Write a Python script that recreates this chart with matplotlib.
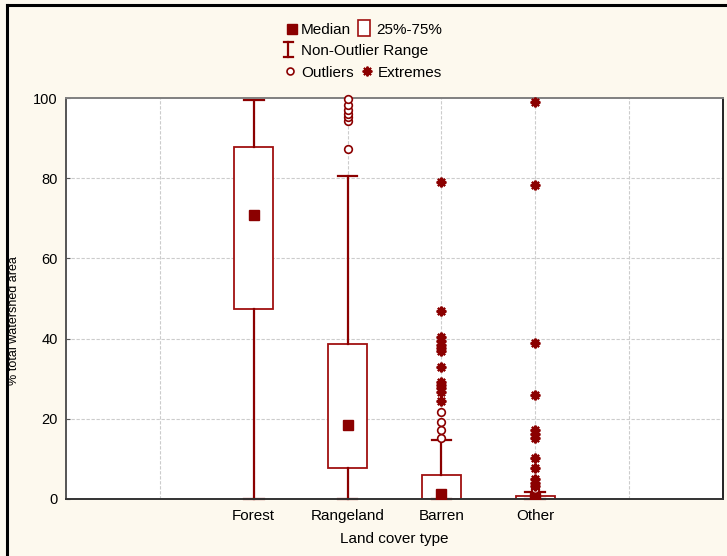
import matplotlib
matplotlib.use("Agg")
import matplotlib.pyplot as plt
from matplotlib.patches import Rectangle

plt.rcParams['font.family'] = ['Liberation Sans', 'DejaVu Sans']

# ---- data ----
categories = ["Forest", "Rangeland", "Barren", "Other"]
positions = [2, 3, 4, 5]
whisker_lo = [0.0, 0.0, 0.0, 0.0]
q1 = [47.4, 7.7, 0.0, 0.0]
medians = [70.7, 18.5, 1.3, 0.2]
q3 = [87.8, 38.7, 5.9, 0.7]
whisker_hi = [99.5, 80.6, 14.7, 1.8]
outliers = [
    [],
    [87.4, 94.3, 95.2, 96.0, 97.0, 98.25, 99.7],
    [15.3, 17.25, 19.3, 21.6],
    [2.4],
]
extremes = [
    [],
    [],
    [24.5, 26.8, 27.7, 28.5, 29.3, 32.8, 36.8, 37.7, 38.5, 39.3, 40.3, 46.8, 79.1],
    [3.25, 4.1, 4.9, 7.7, 10.2, 15.3, 16.3, 17.2, 26.0, 38.8, 78.25, 99.1],
]
yticks = [0, 20, 40, 60, 80, 100]

# ---- style ----
RED = '#8b0000'
BOXRED = '#a01010'
BG = '#fdf9ee'

fig = plt.figure(figsize=(7.27, 5.56), dpi=100, facecolor=BG)
ax = fig.add_axes([66/727, 1-499/556, 657/727, 401/556])
ax.set_facecolor('white')
ax.set_xlim(0, 7)
ax.set_ylim(0, 100)

# grid
for gx in range(1, 7):
    ax.axvline(gx, color='#cccccc', lw=0.8, ls=(0, (3, 1.5)), zorder=0)
for gy in yticks[1:-1]:
    ax.axhline(gy, color='#cccccc', lw=0.8, ls=(0, (3, 1.5)), zorder=0)

stats = []
for i, c in enumerate(categories):
    stats.append(dict(label=c, whislo=whisker_lo[i], q1=q1[i], med=medians[i],
                      q3=q3[i], whishi=whisker_hi[i], fliers=[]))
bp = ax.bxp(stats, positions=positions, widths=0.41, capwidths=0.21,
            showfliers=False, patch_artist=True,
            boxprops=dict(facecolor='white', edgecolor=BOXRED, linewidth=1.3),
            whiskerprops=dict(color=RED, linewidth=1.6),
            capprops=dict(color=RED, linewidth=1.6),
            medianprops=dict(linewidth=0))
for art in bp['caps'] + bp['whiskers']:
    art.set_clip_on(False)

ax.plot(positions, medians, ls='none', marker='s', ms=6.5, color=RED,
        mec=RED, zorder=5)

for p, vals in zip(positions, outliers):
    if vals:
        ax.plot([p]*len(vals), vals, ls='none', marker='o', ms=5.5, mfc='white',
                mec=RED, mew=1.2, zorder=6, clip_on=False)
for p, vals in zip(positions, extremes):
    if vals:
        ax.plot([p]*len(vals), vals, ls='none', marker=(8, 2, 0), ms=7,
                color=RED, mec=RED, mew=1.6, zorder=6, clip_on=False)

ax.set_xticks(positions)
ax.set_xticklabels(categories, fontsize=11)
ax.set_yticks(yticks)
ax.tick_params(axis='x', length=0, pad=7)
ax.tick_params(axis='y', length=3, direction='in', labelsize=10.5, pad=6, color='#555555')
ax.set_xlabel('Land cover type', fontsize=11, labelpad=7)

ax.spines['top'].set_color('#808080')
ax.spines['left'].set_color('#555555')
ax.spines['right'].set_color('#222222')
ax.spines['bottom'].set_color('#333333')
for s in ax.spines.values():
    s.set_linewidth(1.4)

fig.text(14/727, 1-321/556, '% total watershed area', rotation=90,
         ha='center', va='center', fontsize=9)

# ---- overlay for legend and border ----
lax = fig.add_axes([0, 0, 1, 1], facecolor='none')
lax.set_xlim(0, 727)
lax.set_ylim(556, 0)
lax.axis('off')

lax.plot([7, 7], [5, 556], color='black', lw=2.2, solid_capstyle='projecting')
lax.plot([7, 727], [5, 5], color='black', lw=2.2, solid_capstyle='projecting')

fs = 11
lax.plot([291.5], [29], marker='s', ms=7.5, color=RED, ls='none')
lax.text(301, 29.5, 'Median', fontsize=fs, va='center', ha='left')
lax.add_patch(Rectangle((358, 19.5), 11.5, 16, facecolor='white', edgecolor=BOXRED, lw=1.2))
lax.text(376, 29.5, '25%-75%', fontsize=fs, va='center', ha='left')

lax.plot([288, 288], [42, 57], color=RED, lw=1.6)
lax.plot([283.5, 292.5], [42, 42], color=RED, lw=1.6)
lax.plot([283.5, 292.5], [57, 57], color=RED, lw=1.6)
lax.text(301, 51, 'Non-Outlier Range', fontsize=fs, va='center', ha='left')

lax.plot([290], [71], marker='o', ms=5, mfc='white', mec=RED, mew=1.2, ls='none')
lax.text(301, 73, 'Outliers', fontsize=fs, va='center', ha='left')
lax.plot([367], [71], marker=(8, 2, 0), ms=7, color=RED, mec=RED, mew=1.4, ls='none')
lax.text(378, 73, 'Extremes', fontsize=fs, va='center', ha='left')

fig.savefig('out.png', dpi=100, facecolor=BG)
